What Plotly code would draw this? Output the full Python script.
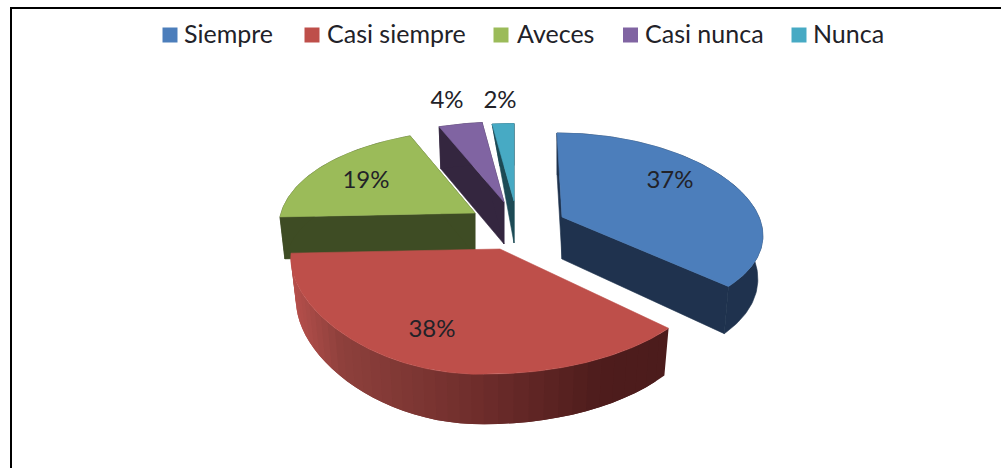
import math
import plotly.graph_objects as go

# ---- data ----
categories = ["Siempre", "Casi siempre", "Aveces", "Casi nunca", "Nunca"]
values = [37, 38, 19, 4, 2]

# ---- style ----
top_colors = ["#4C7EBB", "#BE4F4A", "#9BBB59", "#8064A2", "#47AAC4"]
wall_colors = ["#1F324E", None, "#3E4C24", "#34263F", "#1D4A55"]
red_wall_stops = [(291, (182, 80, 76)), (340, (142, 64, 60)), (480, (110, 45, 43)), (600, (78, 28, 28)), (669, (76, 28, 28))]

# ---- pseudo-3D view of each slice (pixel space of the canvas) ----
apex_x = [562, 500, 475, 504, 514]
apex_y = [217, 249, 213, 202, 201]
radius_x = [197, 209, 195, 209, 209]
radius_y = [93.6, 100, 100, 96, 93]
persp_y = [0.114, 0.2, 0.2, 0.2, 0.2]
persp_x_right = [0.168, 0.2, 0.2, 0.2, 0.2]
persp_x_left = [0.2, 0.0, 0.116, 0.2, 0.2]
shear = [0.06, -0.1, 0.0, 0.0, 0.0]
tilt_left = [0.0, -0.02, -0.02, 0.0, 0.0]
wall_scale = [0.975, 0.975, 0.975, 0.975, 0.65]
draw_order = [3, 4, 2, 0, 1]

label_x = [670, 432, 366, 447, 500]
label_y = [182, 331, 182, 102, 102]

legend_swatch_x = [170, 312, 501, 630.5, 799]
legend_text_x = [184, 327, 517, 645, 813]
legend_y = 35

FONT = "Lato, Carlito, Calibri, sans-serif"
TEXT = "#222228"


def top_point(i, theta):
    X, Y = math.sin(theta), math.cos(theta)
    kx = persp_x_right[i] if X >= 0 else persp_x_left[i]
    dy = -radius_y[i] * Y / (1 + persp_y[i] * Y)
    dx = radius_x[i] * X / (1 + kx * Y) + shear[i] * dy
    dy += tilt_left[i] * min(dx, 0)
    return apex_x[i] + dx, apex_y[i] + dy


def depth(theta):
    Y = math.cos(theta)
    return 42.0 if Y >= 0 else 42.0 / (1 + 0.16 * Y)


def bottom_point(i, theta):
    x, y = top_point(i, theta)
    return apex_x[i] + (x - apex_x[i]) * wall_scale[i], y + depth(theta)


def polygon(xs, ys, color, outline=True):
    return go.Scatter(
        x=xs + xs[:1], y=ys + ys[:1], mode="lines" if outline else "none", fill="toself",
        fillcolor=color, line=dict(color=color, width=0.6),
        hoverinfo="skip", showlegend=False,
    )


def red_color(x):
    for (x0, c0), (x1, c1) in zip(red_wall_stops, red_wall_stops[1:]):
        if x <= x1:
            t = max(0.0, (x - x0) / (x1 - x0))
            return "rgb(%d,%d,%d)" % tuple(round(a + (b - a) * t) for a, b in zip(c0, c1))
    return "rgb(%d,%d,%d)" % red_wall_stops[-1][1]


fig = go.Figure()

total = sum(values)
starts, running = [], 0
for v in values:
    starts.append(running / total * 2 * math.pi)
    running += v

for i in draw_order:
    a0 = starts[i]
    a1 = a0 + values[i] / total * 2 * math.pi
    n = max(6, int(values[i] * 3))
    angles = [a0 + (a1 - a0) * j / n for j in range(n + 1)]
    wall_bottom_apex = (apex_x[i], apex_y[i] + 42)

    if wall_colors[i]:
        for a in (a0, a1):
            tx, ty = top_point(i, a)
            bx, by = bottom_point(i, a)
            fig.add_trace(polygon([apex_x[i], tx, bx, wall_bottom_apex[0]],
                                  [apex_y[i], ty, by, wall_bottom_apex[1]], wall_colors[i]))
        tops = [top_point(i, a) for a in angles]
        bots = [bottom_point(i, a) for a in angles]
        fig.add_trace(polygon([p[0] for p in tops] + [p[0] for p in reversed(bots)],
                              [p[1] for p in tops] + [p[1] for p in reversed(bots)], wall_colors[i]))
    else:
        m = 40
        fine = [a0 + (a1 - a0) * j / m for j in range(m + 1)]
        for j in range(m):
            j2 = min(j + 2, m)
            pts_t = [top_point(i, fine[k]) for k in range(j, j2 + 1)]
            pts_b = [bottom_point(i, fine[k]) for k in range(j2, j - 1, -1)]
            pts = pts_t + pts_b
            cx = (top_point(i, fine[j])[0] + top_point(i, fine[j + 1])[0]) / 2
            fig.add_trace(polygon([p[0] for p in pts], [p[1] for p in pts], red_color(cx), outline=False))

    tops = [top_point(i, a) for a in [a0 + (a1 - a0) * j / (n * 2) for j in range(n * 2 + 1)]]
    fig.add_trace(polygon([apex_x[i]] + [p[0] for p in tops],
                          [apex_y[i]] + [p[1] for p in tops], top_colors[i]))

# value labels
fig.add_trace(go.Scatter(
    x=label_x, y=label_y, mode="text", text=[f"{v}%" for v in values],
    textposition="middle center", textfont=dict(family=FONT, size=24, color=TEXT),
    hoverinfo="skip", showlegend=False,
))

# legend
fig.add_trace(go.Scatter(
    x=legend_swatch_x, y=[legend_y] * len(categories), mode="markers",
    marker=dict(symbol="square", size=15, color=top_colors),
    hoverinfo="skip", showlegend=False,
))
fig.add_trace(go.Scatter(
    x=legend_text_x, y=[legend_y + 2] * len(categories), mode="text", text=categories,
    textposition="middle right", textfont=dict(family=FONT, size=25, color=TEXT),
    hoverinfo="skip", showlegend=False,
))

fig.update_layout(
    width=1001, height=468, margin=dict(l=0, r=0, t=0, b=0),
    paper_bgcolor="white", plot_bgcolor="white", showlegend=False,
    xaxis=dict(range=[0, 1001], visible=False, fixedrange=True),
    yaxis=dict(range=[468, 0], visible=False, fixedrange=True),
    shapes=[
        dict(type="line", xref="x", yref="y", x0=11, x1=11, y0=8, y1=468, line=dict(color="black", width=2)),
        dict(type="line", xref="x", yref="y", x0=10, x1=1001, y0=8, y1=8, line=dict(color="black", width=2)),
    ],
)

fig.write_html("out.html", config={"displayModeBar": False},
               post_script="document.body.style.margin='0';")
